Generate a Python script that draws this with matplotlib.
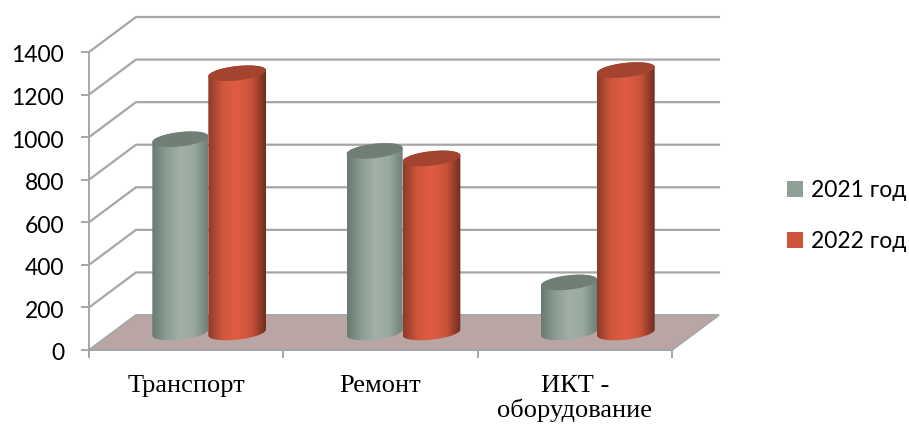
import numpy as np
import matplotlib
matplotlib.use("Agg")
import matplotlib.pyplot as plt
from matplotlib.colors import LinearSegmentedColormap
from matplotlib.patches import Patch, Polygon
from matplotlib.transforms import ScaledTranslation

categories = ["Транспорт", "Ремонт", "ИКТ -\nоборудование"]
series_names = ["2021 год", "2022 год"]
values_2021 = [908, 853, 235]
values_2022 = [1218, 818, 1233]
y_ticks = [0, 200, 400, 600, 800, 1000, 1200, 1400]

W, H = 909, 428
fig = plt.figure(figsize=(W / 100, H / 100), dpi=100)
# front plane of the 3D box
left, right, bottom, top = 89, 672, 350, 52
ax = fig.add_axes([left / W, 1 - bottom / H, (right - left) / W, (bottom - top) / H])
ax.set_xlim(0, 3)
ax.set_ylim(0, 1400)

# pixel -> data scale
sx = 3 / (right - left)
sy = 1400 / (bottom - top)
dep_x = 47 * sx  # box depth
dep_y = 35 * sy

grid_col = "#A6A6A6"

# floor
ax.add_patch(Polygon([(0, 0), (3, 0), (3 + dep_x, dep_y), (dep_x, dep_y)],
                     closed=True, fc="#B9A6A4", ec=grid_col, lw=1.4, zorder=1, clip_on=False))

# back wall lines
for v in y_ticks[1:]:
    ax.plot([0, dep_x, 3 + dep_x], [v, v + dep_y, v + dep_y], color=grid_col, lw=1.6,
            zorder=1, clip_on=False, solid_joinstyle="miter")


def cylinder(x0, val, width, colors, top_col, z):
    t = np.linspace(0, 2 * np.pi, 200)
    a = width / 2
    xc = x0 + a
    ry = 7.2 * sy
    shear = 3 * sy
    base = 17.5 * sy  # centre of the base above the front edge
    ex = xc + a * np.cos(t)
    rel = ry * np.sin(t) + shear * np.cos(t)
    # body outline: lower half of base ellipse, upper half of top ellipse
    t1 = np.linspace(np.pi, 2 * np.pi, 100)
    t2 = np.linspace(0, np.pi, 100)
    bx = xc + a * np.cos(t1)
    by = base + ry * np.sin(t1) + shear * np.cos(t1)
    ux = xc + a * np.cos(t2)
    uy = base + val + ry * np.sin(t2) + shear * np.cos(t2)
    outline = Polygon(np.column_stack([np.r_[bx, ux], np.r_[by, uy]]), closed=True,
                      fc="none", ec="none", zorder=z, clip_on=False)
    ax.add_patch(outline)
    cmap = LinearSegmentedColormap.from_list("c", colors)
    grad = np.linspace(0, 1, 256).reshape(1, -1)
    im = ax.imshow(grad, cmap=cmap, aspect="auto", interpolation="bilinear", zorder=z,
                   extent=[xc - a, xc + a, 0, base + val + 2 * ry])
    im.set_clip_path(outline)
    ax.fill(ex, base + val + rel, color=top_col, lw=0, zorder=z + 0.1, clip_on=False)


green = ["#687A70", "#8A9B91", "#A1B1A7", "#98A99F", "#6F8076"]
red = ["#8E3A28", "#D0563D", "#E05D44", "#C9533A", "#6F2C1E"]
green_top = "#707F75"
red_top = "#A2442F"

bar_w = 56 * sx
for i in range(3):
    joint = i + 0.614
    cylinder(joint - bar_w, values_2021[i], bar_w, green, green_top, 3)
    cylinder(joint, values_2022[i], bar_w * 1.03, red, red_top, 4)

ax.set_xlim(0, 3)
ax.set_ylim(0, 1400)

for s in ["top", "right"]:
    ax.spines[s].set_visible(False)
for s in ["left", "bottom"]:
    ax.spines[s].set_color(grid_col)
    ax.spines[s].set_linewidth(1.4)
    ax.spines[s].set_zorder(2)

ax.set_yticks(y_ticks)
ax.tick_params(axis="y", length=6, width=1.4, color=grid_col, labelsize=16.5, pad=12)
ax.set_xticks([0, 1, 2, 3])
ax.set_xticklabels([])
ax.tick_params(axis="x", which="major", length=6, width=1.4, color=grid_col)
ax.set_xticks([0.5, 1.5, 2.5], minor=True)
ax.set_xticklabels(categories, minor=True, family="Liberation Serif", fontsize=19, linespacing=1.08)
ax.tick_params(axis="x", which="minor", length=0, pad=18)
shift = ScaledTranslation(0, -2 / 100, fig.dpi_scale_trans)
for lab in ax.get_yticklabels():
    lab.set_family("Lato")
    lab.set_transform(lab.get_transform() + shift)

handles = [Patch(fc="#8FA196", ec="none"), Patch(fc="#CF5539", ec="none")]
fig.legend(handles, series_names, loc="center left", bbox_to_anchor=(787 / W, 1 - 216 / H), frameon=False,
           prop={"family": "Lato", "size": 16.5}, handlelength=0.68, handleheight=0.68,
           labelspacing=1.3, handletextpad=0.35, borderpad=0, borderaxespad=0)

fig.savefig("out.png", dpi=100)
